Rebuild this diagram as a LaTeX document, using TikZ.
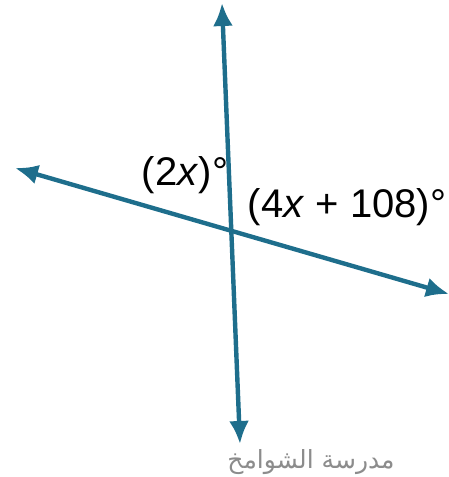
\documentclass[tikz,border=0pt]{standalone}
\usepackage{fontspec}
\setmainfont{Liberation Sans}
\newfontfamily\arabicfont[Script=Arabic]{DejaVu Sans}
\TeXXeTstate=1
\usetikzlibrary{arrows.meta,positioning}
\definecolor{linecol}{RGB}{30,110,140}

\begin{document}
\begin{tikzpicture}[
  x=1pt, y=-1pt,
  line/.style={linecol, line width=4.4pt, {Latex[length=23pt,width=20pt]}-{Latex[length=23pt,width=20pt]}},
  anglelab/.style={inner sep=0pt, font=\fontsize{40}{42}\selectfont}
]
\useasboundingbox (0,0) rectangle (449,477);

\coordinate (vtop) at (222,3);
\coordinate (vbot) at (240,444);
\coordinate (hleft) at (15,168);
\coordinate (hright) at (449,294);

\draw[line] (vtop) -- (vbot);
\draw[line] (hleft) -- (hright);

\node[anglelab] (lefta) at (185,175) {(2\textit{x})°};
\node[anglelab] (righta) at (347,207) {(4\textit{x} + 108)°};

\node[inner sep=0pt, text=black!45, font=\fontsize{25}{27}\selectfont\arabicfont]
  (school) at (311,462) {\beginR مدرسة الشوامخ\endR};
\end{tikzpicture}
\end{document}
